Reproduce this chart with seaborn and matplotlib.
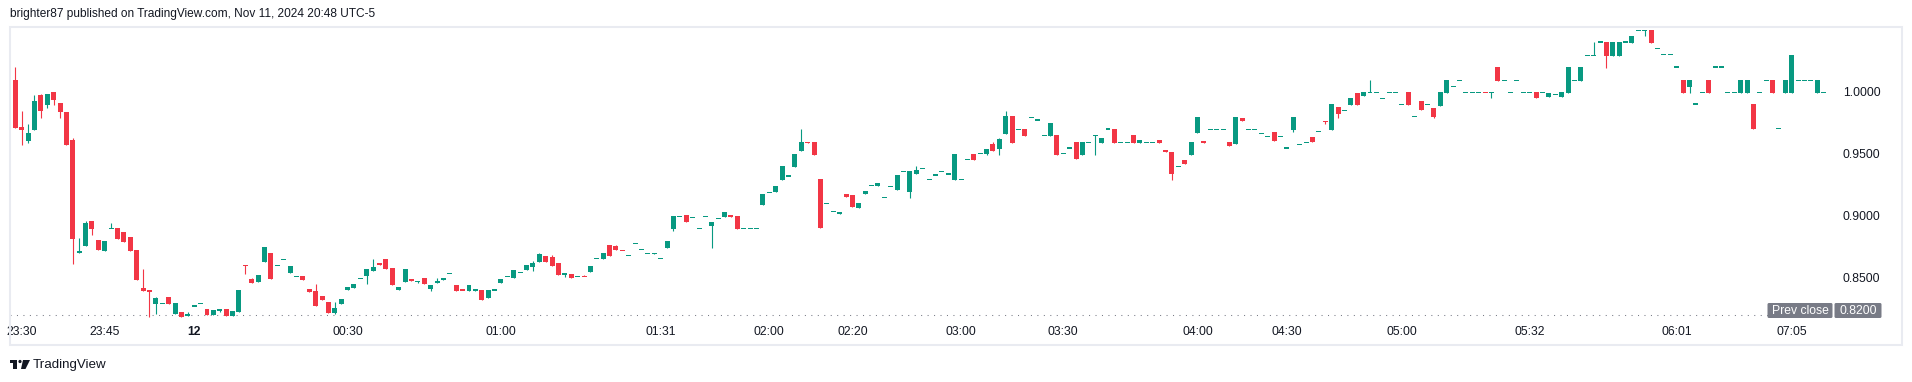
import numpy as np
import pandas as pd
import matplotlib
matplotlib.use("Agg")
import matplotlib.pyplot as plt
import seaborn as sns
from matplotlib.patches import Rectangle, FancyBboxPatch, Polygon, Circle

# ---------------- data (1-minute bars) ----------------
opens = [
    1.0094, 1.0094, 0.9715, 0.9605, 0.9694, 0.9973, 0.9895, 0.9997, 0.9909, 0.9836,
    0.9610, 0.8696, 0.8758, 0.8957, 0.8804, 0.8718, 0.8898, 0.8901, 0.8868, 0.8828,
    0.8723, 0.8417, 0.8401, 0.8290, 0.8293, 0.8344, 0.8207, 0.8223, 0.8191, 0.8272,
    0.8293, 0.8247, 0.8196, 0.8231, 0.8247, 0.8191, 0.8223, 0.8600, 0.8489, 0.8468,
    0.8629, 0.8699, 0.8600, 0.8648, 0.8540, 0.8511, 0.8514, 0.8409, 0.8392, 0.8352,
    0.8304, 0.8215, 0.8288, 0.8401, 0.8419, 0.8495, 0.8516, 0.8554, 0.8618, 0.8651,
    0.8578, 0.8401, 0.8465, 0.8489, 0.8470, 0.8497, 0.8409, 0.8457, 0.8481, 0.8535,
    0.8441, 0.8401, 0.8392, 0.8392, 0.8401, 0.8336, 0.8401, 0.8457, 0.8511, 0.8497,
    0.8543, 0.8562, 0.8586, 0.8626, 0.8675, 0.8667, 0.8618, 0.8522, 0.8530, 0.8511,
    0.8511, 0.8546, 0.8656, 0.8651, 0.8763, 0.8755, 0.8723, 0.8680, 0.8777, 0.8728,
    0.8696, 0.8691, 0.8656, 0.8739, 0.8895, 0.8995, 0.9005, 0.8987, 0.8898, 0.8995,
    0.8919, 0.8978, 0.8992, 0.9005, 0.8997, 0.8898, 0.8898, 0.8898, 0.9086, 0.9186,
    0.9194, 0.9290, 0.9320, 0.9395, 0.9524, 0.9591, 0.9594, 0.9296, 0.9100, 0.9035,
    0.9016, 0.9175, 0.9167, 0.9062, 0.9175, 0.9247, 0.9239, 0.9148, 0.9239, 0.9207,
    0.9358, 0.9191, 0.9336, 0.9384, 0.9293, 0.9328, 0.9360, 0.9336, 0.9288, 0.9293,
    0.9454, 0.9497, 0.9503, 0.9497, 0.9578, 0.9538, 0.9659, 0.9804, 0.9696, 0.9699,
    0.9790, 0.9772, 0.9648, 0.9643, 0.9651, 0.9503, 0.9546, 0.9594, 0.9489, 0.9591,
    0.9648, 0.9586, 0.9699, 0.9699, 0.9591, 0.9591, 0.9651, 0.9586, 0.9591, 0.9591,
    0.9610, 0.9530, 0.9513, 0.9398, 0.9449, 0.9489, 0.9667, 0.9602, 0.9696, 0.9696,
    0.9696, 0.9594, 0.9578, 0.9788, 0.9696, 0.9696, 0.9664, 0.9640, 0.9675, 0.9640,
    0.9546, 0.9691, 0.9575, 0.9591, 0.9634, 0.9680, 0.9763, 0.9691, 0.9876, 0.9852,
    0.9892, 0.9989, 0.9965, 0.9997, 0.9997, 0.9946, 0.9997, 0.9997, 0.9898, 0.9997,
    0.9801, 0.9925, 0.9898, 0.9868, 0.9884, 0.9989, 1.0043, 1.0091, 0.9997, 0.9997,
    0.9997, 0.9997, 0.9997, 1.0199, 1.0091, 0.9997, 1.0091, 0.9997, 0.9997, 0.9997,
    0.9997, 0.9957, 0.9978, 0.9957, 0.9989, 1.0091, 1.0086, 1.0293, 1.0293, 1.0401,
    1.0401, 1.0288, 1.0288, 1.0401, 1.0393, 1.0497, 1.0497, 1.0497, 1.0347, 1.0298,
    1.0298, 1.0199, 1.0094, 1.0040, 0.9901, 0.9997, 1.0094, 1.0199, 1.0199, 0.9997,
    0.9997, 0.9992, 0.9992, 0.9901, 0.9997, 1.0094, 1.0094, 0.9707, 0.9992, 0.9992,
    1.0094, 1.0094, 1.0094, 0.9992, 0.9997,
]
highs = [
    1.0094, 1.0196, 0.9844, 0.9739, 0.9973, 0.9981, 0.9981, 0.9997, 0.9909, 0.9836,
    0.9626, 0.8820, 0.8957, 0.8957, 0.8804, 0.8796, 0.8941, 0.8901, 0.8868, 0.8828,
    0.8723, 0.8570, 0.8401, 0.8347, 0.8293, 0.8344, 0.8296, 0.8223, 0.8223, 0.8272,
    0.8293, 0.8247, 0.8239, 0.8247, 0.8247, 0.8231, 0.8401, 0.8600, 0.8497, 0.8522,
    0.8747, 0.8699, 0.8600, 0.8648, 0.8594, 0.8511, 0.8514, 0.8409, 0.8449, 0.8352,
    0.8304, 0.8304, 0.8328, 0.8425, 0.8449, 0.8495, 0.8570, 0.8651, 0.8618, 0.8651,
    0.8578, 0.8425, 0.8570, 0.8489, 0.8470, 0.8497, 0.8438, 0.8497, 0.8497, 0.8535,
    0.8441, 0.8401, 0.8441, 0.8409, 0.8401, 0.8401, 0.8401, 0.8489, 0.8511, 0.8562,
    0.8543, 0.8602, 0.8634, 0.8699, 0.8675, 0.8683, 0.8618, 0.8535, 0.8530, 0.8511,
    0.8522, 0.8594, 0.8656, 0.8699, 0.8763, 0.8763, 0.8723, 0.8680, 0.8777, 0.8728,
    0.8696, 0.8699, 0.8656, 0.8796, 0.8997, 0.8995, 0.9005, 0.8987, 0.8898, 0.8995,
    0.8949, 0.8978, 0.9030, 0.9005, 0.8997, 0.8898, 0.8898, 0.8898, 0.9175, 0.9186,
    0.9239, 0.9401, 0.9320, 0.9497, 0.9699, 0.9591, 0.9594, 0.9296, 0.9100, 0.9035,
    0.9030, 0.9175, 0.9167, 0.9102, 0.9199, 0.9247, 0.9263, 0.9148, 0.9239, 0.9328,
    0.9358, 0.9360, 0.9401, 0.9384, 0.9293, 0.9328, 0.9360, 0.9336, 0.9497, 0.9293,
    0.9454, 0.9497, 0.9503, 0.9538, 0.9594, 0.9626, 0.9844, 0.9804, 0.9696, 0.9699,
    0.9790, 0.9772, 0.9648, 0.9747, 0.9651, 0.9503, 0.9546, 0.9594, 0.9594, 0.9591,
    0.9648, 0.9626, 0.9699, 0.9699, 0.9591, 0.9591, 0.9651, 0.9610, 0.9591, 0.9591,
    0.9610, 0.9530, 0.9513, 0.9398, 0.9449, 0.9594, 0.9796, 0.9602, 0.9696, 0.9696,
    0.9696, 0.9594, 0.9796, 0.9788, 0.9696, 0.9696, 0.9664, 0.9640, 0.9675, 0.9640,
    0.9546, 0.9796, 0.9575, 0.9591, 0.9634, 0.9680, 0.9763, 0.9901, 0.9876, 0.9852,
    0.9949, 0.9989, 0.9997, 1.0094, 0.9997, 0.9946, 0.9997, 0.9997, 0.9898, 0.9997,
    0.9801, 0.9925, 0.9898, 0.9868, 0.9997, 1.0094, 1.0043, 1.0091, 0.9997, 0.9997,
    0.9997, 0.9997, 0.9997, 1.0199, 1.0091, 0.9997, 1.0091, 0.9997, 0.9997, 0.9997,
    0.9997, 0.9989, 0.9978, 0.9997, 1.0199, 1.0091, 1.0199, 1.0293, 1.0401, 1.0401,
    1.0401, 1.0401, 1.0401, 1.0401, 1.0449, 1.0497, 1.0497, 1.0497, 1.0347, 1.0298,
    1.0298, 1.0199, 1.0094, 1.0094, 0.9901, 0.9997, 1.0094, 1.0199, 1.0199, 0.9997,
    0.9997, 1.0094, 1.0094, 0.9901, 0.9997, 1.0094, 1.0094, 0.9707, 1.0094, 1.0296,
    1.0094, 1.0094, 1.0094, 1.0094, 0.9997,
]
lows = [
    1.0094, 0.9710, 0.9573, 0.9589, 0.9694, 0.9790, 0.9871, 0.9895, 0.9790, 0.9573,
    0.8613, 0.8696, 0.8758, 0.8847, 0.8726, 0.8718, 0.8898, 0.8815, 0.8790, 0.8718,
    0.8484, 0.8395, 0.8186, 0.8210, 0.8293, 0.8290, 0.8207, 0.8186, 0.8191, 0.8272,
    0.8293, 0.8196, 0.8196, 0.8223, 0.8191, 0.8191, 0.8223, 0.8530, 0.8457, 0.8468,
    0.8629, 0.8492, 0.8600, 0.8648, 0.8540, 0.8511, 0.8484, 0.8387, 0.8274, 0.8323,
    0.8218, 0.8207, 0.8288, 0.8401, 0.8419, 0.8495, 0.8452, 0.8554, 0.8602, 0.8570,
    0.8441, 0.8401, 0.8465, 0.8473, 0.8454, 0.8449, 0.8392, 0.8457, 0.8481, 0.8535,
    0.8392, 0.8400, 0.8392, 0.8392, 0.8320, 0.8336, 0.8401, 0.8457, 0.8511, 0.8497,
    0.8543, 0.8562, 0.8554, 0.8626, 0.8626, 0.8594, 0.8522, 0.8505, 0.8497, 0.8511,
    0.8510, 0.8546, 0.8656, 0.8651, 0.8675, 0.8723, 0.8722, 0.8680, 0.8777, 0.8728,
    0.8696, 0.8691, 0.8656, 0.8739, 0.8879, 0.8995, 0.8949, 0.8987, 0.8898, 0.8995,
    0.8739, 0.8978, 0.8992, 0.8992, 0.8895, 0.8898, 0.8898, 0.8898, 0.9086, 0.9186,
    0.9194, 0.9290, 0.9320, 0.9395, 0.9524, 0.9590, 0.9492, 0.8898, 0.9100, 0.9035,
    0.9016, 0.9153, 0.9070, 0.9062, 0.9175, 0.9247, 0.9239, 0.9148, 0.9239, 0.9207,
    0.9358, 0.9143, 0.9336, 0.9384, 0.9293, 0.9328, 0.9360, 0.9336, 0.9288, 0.9293,
    0.9454, 0.9449, 0.9503, 0.9489, 0.9522, 0.9489, 0.9659, 0.9586, 0.9696, 0.9643,
    0.9790, 0.9772, 0.9648, 0.9643, 0.9489, 0.9503, 0.9546, 0.9457, 0.9489, 0.9591,
    0.9489, 0.9586, 0.9699, 0.9586, 0.9591, 0.9591, 0.9586, 0.9586, 0.9591, 0.9591,
    0.9586, 0.9513, 0.9288, 0.9398, 0.9417, 0.9489, 0.9667, 0.9586, 0.9696, 0.9696,
    0.9696, 0.9562, 0.9578, 0.9763, 0.9696, 0.9696, 0.9664, 0.9640, 0.9602, 0.9640,
    0.9546, 0.9675, 0.9575, 0.9591, 0.9594, 0.9680, 0.9739, 0.9691, 0.9788, 0.9852,
    0.9892, 0.9892, 0.9965, 0.9997, 0.9997, 0.9946, 0.9997, 0.9997, 0.9898, 0.9892,
    0.9801, 0.9852, 0.9898, 0.9788, 0.9884, 0.9989, 1.0043, 1.0091, 0.9997, 0.9997,
    0.9997, 0.9996, 0.9949, 1.0086, 1.0091, 0.9997, 1.0091, 0.9997, 0.9997, 0.9949,
    0.9997, 0.9957, 0.9978, 0.9957, 0.9989, 1.0091, 1.0086, 1.0293, 1.0293, 1.0401,
    1.0191, 1.0288, 1.0288, 1.0401, 1.0393, 1.0497, 1.0449, 1.0393, 1.0347, 1.0298,
    1.0298, 1.0199, 0.9992, 0.9992, 0.9901, 0.9997, 0.9992, 1.0199, 1.0199, 0.9997,
    0.9997, 0.9992, 0.9992, 0.9696, 0.9997, 1.0094, 0.9992, 0.9707, 0.9992, 0.9992,
    1.0094, 1.0094, 1.0094, 0.9992, 0.9997,
]
closes = [
    1.0094, 0.9710, 0.9694, 0.9667, 0.9925, 0.9847, 0.9981, 0.9936, 0.9839, 0.9573,
    0.8812, 0.8715, 0.8941, 0.8895, 0.8726, 0.8796, 0.8898, 0.8815, 0.8790, 0.8718,
    0.8484, 0.8395, 0.8387, 0.8336, 0.8293, 0.8290, 0.8296, 0.8186, 0.8207, 0.8272,
    0.8293, 0.8196, 0.8239, 0.8247, 0.8191, 0.8231, 0.8401, 0.8599, 0.8457, 0.8522,
    0.8747, 0.8492, 0.8600, 0.8648, 0.8594, 0.8511, 0.8484, 0.8387, 0.8274, 0.8323,
    0.8218, 0.8255, 0.8328, 0.8425, 0.8449, 0.8495, 0.8570, 0.8586, 0.8602, 0.8570,
    0.8441, 0.8425, 0.8570, 0.8473, 0.8470, 0.8449, 0.8438, 0.8473, 0.8497, 0.8535,
    0.8392, 0.8400, 0.8441, 0.8409, 0.8320, 0.8401, 0.8401, 0.8489, 0.8511, 0.8562,
    0.8543, 0.8602, 0.8618, 0.8691, 0.8626, 0.8594, 0.8522, 0.8535, 0.8497, 0.8511,
    0.8510, 0.8594, 0.8656, 0.8699, 0.8675, 0.8723, 0.8722, 0.8680, 0.8777, 0.8728,
    0.8696, 0.8699, 0.8656, 0.8796, 0.8997, 0.8995, 0.8949, 0.8987, 0.8898, 0.8995,
    0.8949, 0.8978, 0.9030, 0.8992, 0.8895, 0.8898, 0.8898, 0.8898, 0.9175, 0.9186,
    0.9239, 0.9401, 0.9320, 0.9497, 0.9594, 0.9590, 0.9492, 0.8898, 0.9100, 0.9035,
    0.9030, 0.9153, 0.9070, 0.9102, 0.9199, 0.9247, 0.9263, 0.9148, 0.9239, 0.9328,
    0.9358, 0.9360, 0.9368, 0.9384, 0.9293, 0.9328, 0.9360, 0.9336, 0.9497, 0.9293,
    0.9454, 0.9449, 0.9503, 0.9538, 0.9522, 0.9618, 0.9804, 0.9586, 0.9696, 0.9643,
    0.9790, 0.9772, 0.9648, 0.9747, 0.9489, 0.9503, 0.9546, 0.9457, 0.9594, 0.9591,
    0.9648, 0.9626, 0.9699, 0.9586, 0.9591, 0.9591, 0.9586, 0.9610, 0.9591, 0.9591,
    0.9586, 0.9513, 0.9336, 0.9398, 0.9417, 0.9594, 0.9796, 0.9586, 0.9696, 0.9696,
    0.9696, 0.9562, 0.9796, 0.9763, 0.9696, 0.9696, 0.9664, 0.9640, 0.9602, 0.9640,
    0.9546, 0.9796, 0.9575, 0.9591, 0.9594, 0.9680, 0.9762, 0.9901, 0.9820, 0.9852,
    0.9949, 0.9892, 0.9997, 0.9997, 0.9997, 0.9946, 0.9997, 0.9997, 0.9898, 0.9892,
    0.9801, 0.9852, 0.9898, 0.9796, 0.9997, 1.0094, 1.0043, 1.0091, 0.9997, 0.9997,
    0.9997, 0.9996, 0.9997, 1.0086, 1.0091, 0.9997, 1.0091, 0.9997, 0.9997, 0.9949,
    0.9997, 0.9989, 0.9978, 0.9997, 1.0199, 1.0091, 1.0199, 1.0293, 1.0293, 1.0401,
    1.0288, 1.0401, 1.0401, 1.0401, 1.0449, 1.0497, 1.0497, 1.0393, 1.0347, 1.0298,
    1.0298, 1.0199, 0.9992, 1.0094, 0.9901, 0.9997, 0.9992, 1.0199, 1.0199, 0.9997,
    0.9997, 1.0094, 1.0094, 0.9696, 0.9997, 1.0094, 0.9992, 0.9707, 1.0094, 1.0296,
    1.0094, 1.0094, 1.0094, 1.0094, 0.9997,
]

time_labels = ["23:30", "23:45", "12", "00:30", "01:00", "01:31", "02:00", "02:20",
               "03:00", "03:30", "04:00", "04:30", "05:00", "05:32", "06:01", "07:05"]
time_label_bars = [3, 16, 30, 54, 78, 103, 120, 133, 150, 166, 187, 201, 219, 239, 262, 280]
price_ticks = [0.85, 0.90, 0.95, 1.00]
prev_close = 0.82
header = "brighter87 published on TradingView.com, Nov 11, 2024 20:48 UTC-5"

# ---------------- style ----------------
sns.set_theme(style="white")
plt.rcParams['font.family'] = ['Liberation Sans', 'DejaVu Sans']

UP, DOWN = "#089981", "#F23645"
TXT = "#131722"
W, H = 1912, 382
fig = plt.figure(figsize=(W / 100, H / 100), dpi=100, facecolor="white")

pane_l, pane_r, pane_t, pane_b = 10, 1832, 27, 318
ax = fig.add_axes([pane_l / W, 1 - pane_b / H, (pane_r - pane_l) / W, (pane_b - pane_t) / H])
ax.set_facecolor("white")

df = pd.DataFrame({"open": opens, "high": highs, "low": lows, "close": closes})
df["bar"] = np.arange(1, len(df) + 1)
up = df["close"] >= df["open"]
colors = np.where(up, UP, DOWN)

ylo, yhi = 0.8175, 1.0522
px_per_unit = (pane_b - pane_t) / (yhi - ylo)
min_h = 1.1 / px_per_unit

# wicks
ax.vlines(df["bar"], df["low"], df["high"], colors=colors, lw=0.8, zorder=3)
# bodies
bot = np.minimum(df["open"], df["close"]).to_numpy()
hgt = np.abs(df["close"] - df["open"]).to_numpy()
mid = (df["open"] + df["close"]).to_numpy() / 2
small = hgt < min_h
bot = np.where(small, mid - min_h / 2, bot)
hgt = np.where(small, min_h, hgt)
ax.bar(df["bar"], hgt, bottom=bot, width=0.78, color=colors, linewidth=0, zorder=4)

# previous close dotted line
ax.axhline(prev_close, color="#787b86", lw=0.75, ls=(0, (1, 5.2)), zorder=2)

ax.set_xlim(1.17, 286.3)
ax.set_ylim(ylo, yhi)
sns.despine(ax=ax, left=True, bottom=True, right=True, top=True)
ax.grid(False)

ax.yaxis.tick_right()
ax.set_yticks(price_ticks)
ax.set_yticklabels([f"{v:.4f}" for v in price_ticks])
ax.tick_params(axis="y", length=0, pad=7.9, labelsize=8.7, labelcolor=TXT)
ax.set_xticks(time_label_bars)
ax.set_xticklabels(time_labels)
ax.tick_params(axis="x", length=0, pad=6.0, labelsize=8.7, labelcolor=TXT)
for lab in ax.get_xticklabels():
    if lab.get_text() == "12":
        lab.set_fontweight("bold")

# ---------------- overlay (frame, header, labels, logo) ----------------
ov = fig.add_axes([0, 0, 1, 1], zorder=5)
ov.set_xlim(0, W)
ov.set_ylim(H, 0)
ov.axis("off")
ov.patch.set_visible(False)

ov.add_patch(Rectangle((10, 26.5), 1892, 318.5, fill=False, edgecolor="#e9ebf1", lw=1.5))
ov.text(10, 14.5, header, fontsize=8.6, color=TXT, ha="left", va="center")

# prev close labels
ov.add_patch(FancyBboxPatch((1767.5, 303), 65, 15, boxstyle="round,pad=0,rounding_size=1.5",
                            facecolor="#787b86", edgecolor="none"))
ov.add_patch(FancyBboxPatch((1834.5, 303), 47, 15, boxstyle="round,pad=0,rounding_size=1.5",
                            facecolor="#787b86", edgecolor="none"))
ov.text(1800, 310.8, "Prev close", fontsize=8.7, color="white", ha="center", va="center")
ov.text(1858, 310.8, f"{prev_close:.4f}", fontsize=8.7, color="white", ha="center", va="center")

# TradingView logo
ov.add_patch(Rectangle((10, 360), 7, 3, facecolor="#131722", edgecolor="none"))
ov.add_patch(Rectangle((13.5, 360), 3.5, 9, facecolor="#131722", edgecolor="none"))
ov.add_patch(Circle((20, 361.5), 1.6, facecolor="#131722", edgecolor="none"))
ov.add_patch(Polygon([(23, 360), (30, 360), (25.5, 369), (21, 369)], closed=True,
                     facecolor="#131722", edgecolor="none"))
ov.text(33, 365, "TradingView", fontsize=9.6, color="#131722", ha="left", va="center")

fig.savefig("out.png", dpi=100, facecolor="white")
